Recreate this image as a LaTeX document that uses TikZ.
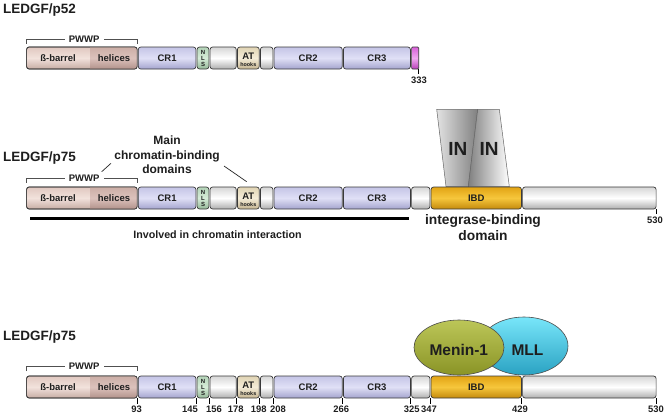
\documentclass[tikz,border=0pt]{standalone}
\usepackage{fontspec}
\setmainfont{Liberation Sans}
\usetikzlibrary{shapes.geometric}
\definecolor{segedge}{HTML}{3A3A3A}
\definecolor{txt}{HTML}{1E1E1E}
\definecolor{brk}{HTML}{505050}
\definecolor{crT}{HTML}{C4C4E6}\definecolor{crM}{HTML}{E0E0F6}\definecolor{crB}{HTML}{A4A4CE}
\definecolor{blT}{HTML}{D6D6D6}\definecolor{blM}{HTML}{FFFFFF}\definecolor{blB}{HTML}{AEAEAE}
\definecolor{nlT}{HTML}{B4D4B8}\definecolor{nlM}{HTML}{D6ECD8}\definecolor{nlB}{HTML}{94B898}
\definecolor{atT}{HTML}{E0D4B4}\definecolor{atM}{HTML}{F4ECD8}\definecolor{atB}{HTML}{C4B490}
\definecolor{beT}{HTML}{E0C8C0}\definecolor{beM}{HTML}{F2E2DC}\definecolor{beB}{HTML}{C6ACA4}
\definecolor{hxT}{HTML}{CAACA4}\definecolor{hxM}{HTML}{DCC2BC}\definecolor{hxB}{HTML}{AE8E86}
\definecolor{ibT}{HTML}{E2A414}\definecolor{ibM}{HTML}{F6C63C}\definecolor{ibB}{HTML}{C48A0C}
\definecolor{mgT}{HTML}{D860D8}\definecolor{mgM}{HTML}{F0A8F0}\definecolor{mgB}{HTML}{B840B8}
\definecolor{mnT}{HTML}{BCC658}\definecolor{mnB}{HTML}{8A9426}
\definecolor{mlT}{HTML}{78E6FA}\definecolor{mlB}{HTML}{2AA2C2}
\definecolor{inDark}{HTML}{808080}\definecolor{inLight}{HTML}{E2E2E2}
\tikzset{
 segbase/.style={draw=segedge, line width=0.7pt, rounded corners=2.5pt, minimum height=22pt,
   inner sep=0pt, outer sep=0pt, font=\fontsize{9.5}{10}\selectfont\bfseries, text=txt},
 crseg/.style={segbase, top color=crT, bottom color=crB, middle color=crM},
 blankseg/.style={segbase, top color=blT, bottom color=blB, middle color=blM},
 nlsseg/.style={segbase, top color=nlT, bottom color=nlB, middle color=nlM, align=center,
   font=\fontsize{6}{6}\selectfont\bfseries},
 atseg/.style={segbase, top color=atT, bottom color=atB, middle color=atM},
 beseg/.style={segbase, top color=beT, bottom color=beB, middle color=beM},
 ibdseg/.style={segbase, top color=ibT, bottom color=ibB, middle color=ibM},
 magseg/.style={segbase, rounded corners=1pt, top color=mgT, bottom color=mgB, middle color=mgM},
 segline/.style={draw=segedge, line width=0.7pt, rounded corners=2.5pt},
 boxtext/.style={inner sep=0pt, font=\fontsize{9.5}{10}\selectfont\bfseries, text=txt},
 hookstext/.style={inner sep=0pt, anchor=base, font=\fontsize{5.4}{6}\selectfont\bfseries, text=txt},
 attext/.style={inner sep=0pt, anchor=base, font=\fontsize{9.5}{10}\selectfont\bfseries, text=txt},
 titletext/.style={font=\fontsize{13.5}{15}\selectfont\bfseries, anchor=base west, inner sep=0pt, text=txt},
 numlabel/.style={font=\fontsize{9.4}{10}\selectfont\bfseries, anchor=base, inner sep=0pt, text=txt},
 tickline/.style={draw=black, line width=0.6pt},
 bracket/.style={draw=brk, line width=0.6pt},
 pwwplabel/.style={fill=white, inner xsep=4pt, inner ysep=1pt, font=\fontsize{9.5}{10}\selectfont\bfseries, text=txt},
 pointer/.style={draw=black!85, line width=0.7pt},
 chromabar/.style={draw=black, line width=3pt},
 bigtext/.style={inner sep=0pt, align=center, text=txt},
 intrap/.style={draw=black!60, line width=0.5pt},
 ovalshape/.style={ellipse, draw=black!70, line width=0.6pt, inner sep=0pt},
}
% core segments shared by all three rows: #1 = name suffix, #2 = row centre y, #3 = bracket y
\newcommand{\ledgfcore}[3]{%
  \coordinate (bl#1) at (26,#3+4.5);
  \coordinate (br#1) at (137.3,#3+4.5);
  \draw[bracket] (bl#1) -- (26,#3) -- (137.3,#3) -- (br#1);
  \node[pwwplabel] (pl#1) at (84.2,#3) {PWWP};
  \node[beseg, minimum width=110.5pt] (pw#1) at (81.85,#2) {};
  \begin{scope}
    \clip[rounded corners=2.5pt] (pw#1.south west) rectangle (pw#1.north east);
    \shade[top color=hxT, bottom color=hxB, middle color=hxM] (90,#2-12) rectangle (140,#2+12);
  \end{scope}
  \draw[segline] (pw#1.south west) rectangle (pw#1.north east);
  \node[boxtext] (bb#1) at (58,#2) {ß-barrel};
  \node[boxtext] (hx#1) at (114,#2) {helices};
  \node[crseg, minimum width=57.6pt] (cra#1) at (167.1,#2) {CR1};
  \node[nlsseg, minimum width=11.8pt] (nls#1) at (203,#2) {N\\L\\S};
  \node[blankseg, minimum width=26.1pt] (bka#1) at (223.15,#2) {};
  \node[atseg, minimum width=21.8pt] (at#1) at (248.3,#2) {};
  \node[attext] (att#1) at (248.3,#2+1.6) {AT};
  \node[hookstext] (ath#1) at (248.3,#2+8.3) {hooks};
  \node[blankseg, minimum width=12.5pt] (bkb#1) at (266.65,#2) {};
  \node[crseg, minimum width=68.1pt] (crb#1) at (308.15,#2) {CR2};
  \node[crseg, minimum width=67pt] (crc#1) at (376.9,#2) {CR3};
}
\begin{document}
\begin{tikzpicture}[x=1pt,y=-1pt]
\path[use as bounding box, fill=white] (0,0) rectangle (667,416);

% ---------------- Row 1 : LEDGF/p52
\node[titletext] (t1) at (3,13.3) {LEDGF/p52};
\ledgfcore{a}{58}{39.3}
\node[magseg, minimum width=7.1pt] (mga) at (415.15,58) {};
\draw[tickline] (mga.south east) -- ++(0,4.5);
\node[numlabel] (n333) at (419,83.3) {333};

% ---------------- Row 2 : LEDGF/p75 with integrase
\node[titletext] (t2) at (3,161.7) {LEDGF/p75};
\draw[intrap, left color=inLight, right color=inDark]
  (436.7,109.3) -- (477.7,109.3) -- (468.3,186.5) -- (446,186.5) -- cycle;
\draw[intrap, left color=inDark, right color=white]
  (477.7,109.3) -- (499.3,109.3) -- (509.3,186.5) -- (468.3,186.5) -- cycle;
\node[bigtext, anchor=base, font=\fontsize{19}{20}\selectfont\bfseries] (in1) at (457.8,155) {IN};
\node[bigtext, anchor=base, font=\fontsize{19}{20}\selectfont\bfseries] (in2) at (489.2,155) {IN};
\ledgfcore{b}{198}{178.3}
\node[blankseg, minimum width=18.3pt] (bkcb) at (420.75,198) {};
\node[ibdseg, minimum width=90.3pt] (ibdb) at (476.25,198) {IBD};
\node[blankseg, minimum width=133.5pt] (tlb) at (589.35,198) {};
\draw[tickline] (tlb.south east) -- ++(0,4.5);
\node[numlabel] (n530b) at (655,223.3) {530};
\node[bigtext, font=\fontsize{12}{14.5}\selectfont\bfseries] (mcb) at (167,155) {Main\\chromatin-binding\\domains};
\coordinate (p1a) at (101.7,171.7); \coordinate (p1b) at (111,163.3);
\coordinate (p2a) at (224,166);     \coordinate (p2b) at (246.7,181.7);
\draw[pointer] (p1a) -- (p1b);
\draw[pointer] (p2a) -- (p2b);
\coordinate (cbl) at (30,218.3); \coordinate (cbr) at (409,218.3);
\draw[chromabar] (cbl) -- (cbr);
\node[bigtext, anchor=base, font=\fontsize{10.7}{12}\selectfont\bfseries] (inv) at (217.5,238.3) {Involved in chromatin interaction};
\node[bigtext, anchor=north, font=\fontsize{13.8}{15.5}\selectfont\bfseries] (ibdlab) at (483,214.5) {integrase-binding\\domain};

% ---------------- Row 3 : LEDGF/p75 with Menin-1 / MLL
\node[titletext] (t3) at (3,340.7) {LEDGF/p75};
\node[ovalshape, top color=mlT, bottom color=mlB, minimum width=88pt, minimum height=58pt] (mll) at (524,346) {};
\node[ovalshape, top color=mnT, bottom color=mnB, minimum width=90pt, minimum height=55pt] (men) at (459,347.5) {};
\node[bigtext, anchor=base, font=\fontsize{15.5}{17}\selectfont\bfseries] (ment) at (458.8,355) {Menin-1};
\node[bigtext, anchor=base, font=\fontsize{15.5}{17}\selectfont\bfseries] (mllt) at (527.5,355.5) {MLL};
\ledgfcore{c}{387}{366.7}
\node[blankseg, minimum width=18.3pt] (bkcc) at (420.75,387) {};
\node[ibdseg, minimum width=90.3pt] (ibdc) at (476.25,387) {IBD};
\node[blankseg, minimum width=133.5pt] (tlc) at (589.35,387) {};
\foreach \nd in {pwc,crac,nlsc,bkac,atc,bkbc,crbc,crcc,bkcc,ibdc,tlc}
  \draw[tickline] (\nd.south east) -- ++(0,5.5);
\node[numlabel] (l93)  at (136.7,412.7) {93};
\node[numlabel] (l145) at (190,412.7) {145};
\node[numlabel] (l156) at (214,412.7) {156};
\node[numlabel] (l178) at (235.7,412.7) {178};
\node[numlabel] (l198) at (258.7,412.7) {198};
\node[numlabel] (l208) at (278,412.7) {208};
\node[numlabel] (l266) at (341.3,412.7) {266};
\node[numlabel] (l325) at (411.7,412.7) {325};
\node[numlabel] (l347) at (429,412.7) {347};
\node[numlabel] (l429) at (520,412.7) {429};
\node[numlabel] (l530) at (656,412.7) {530};
\end{tikzpicture}
\end{document}
